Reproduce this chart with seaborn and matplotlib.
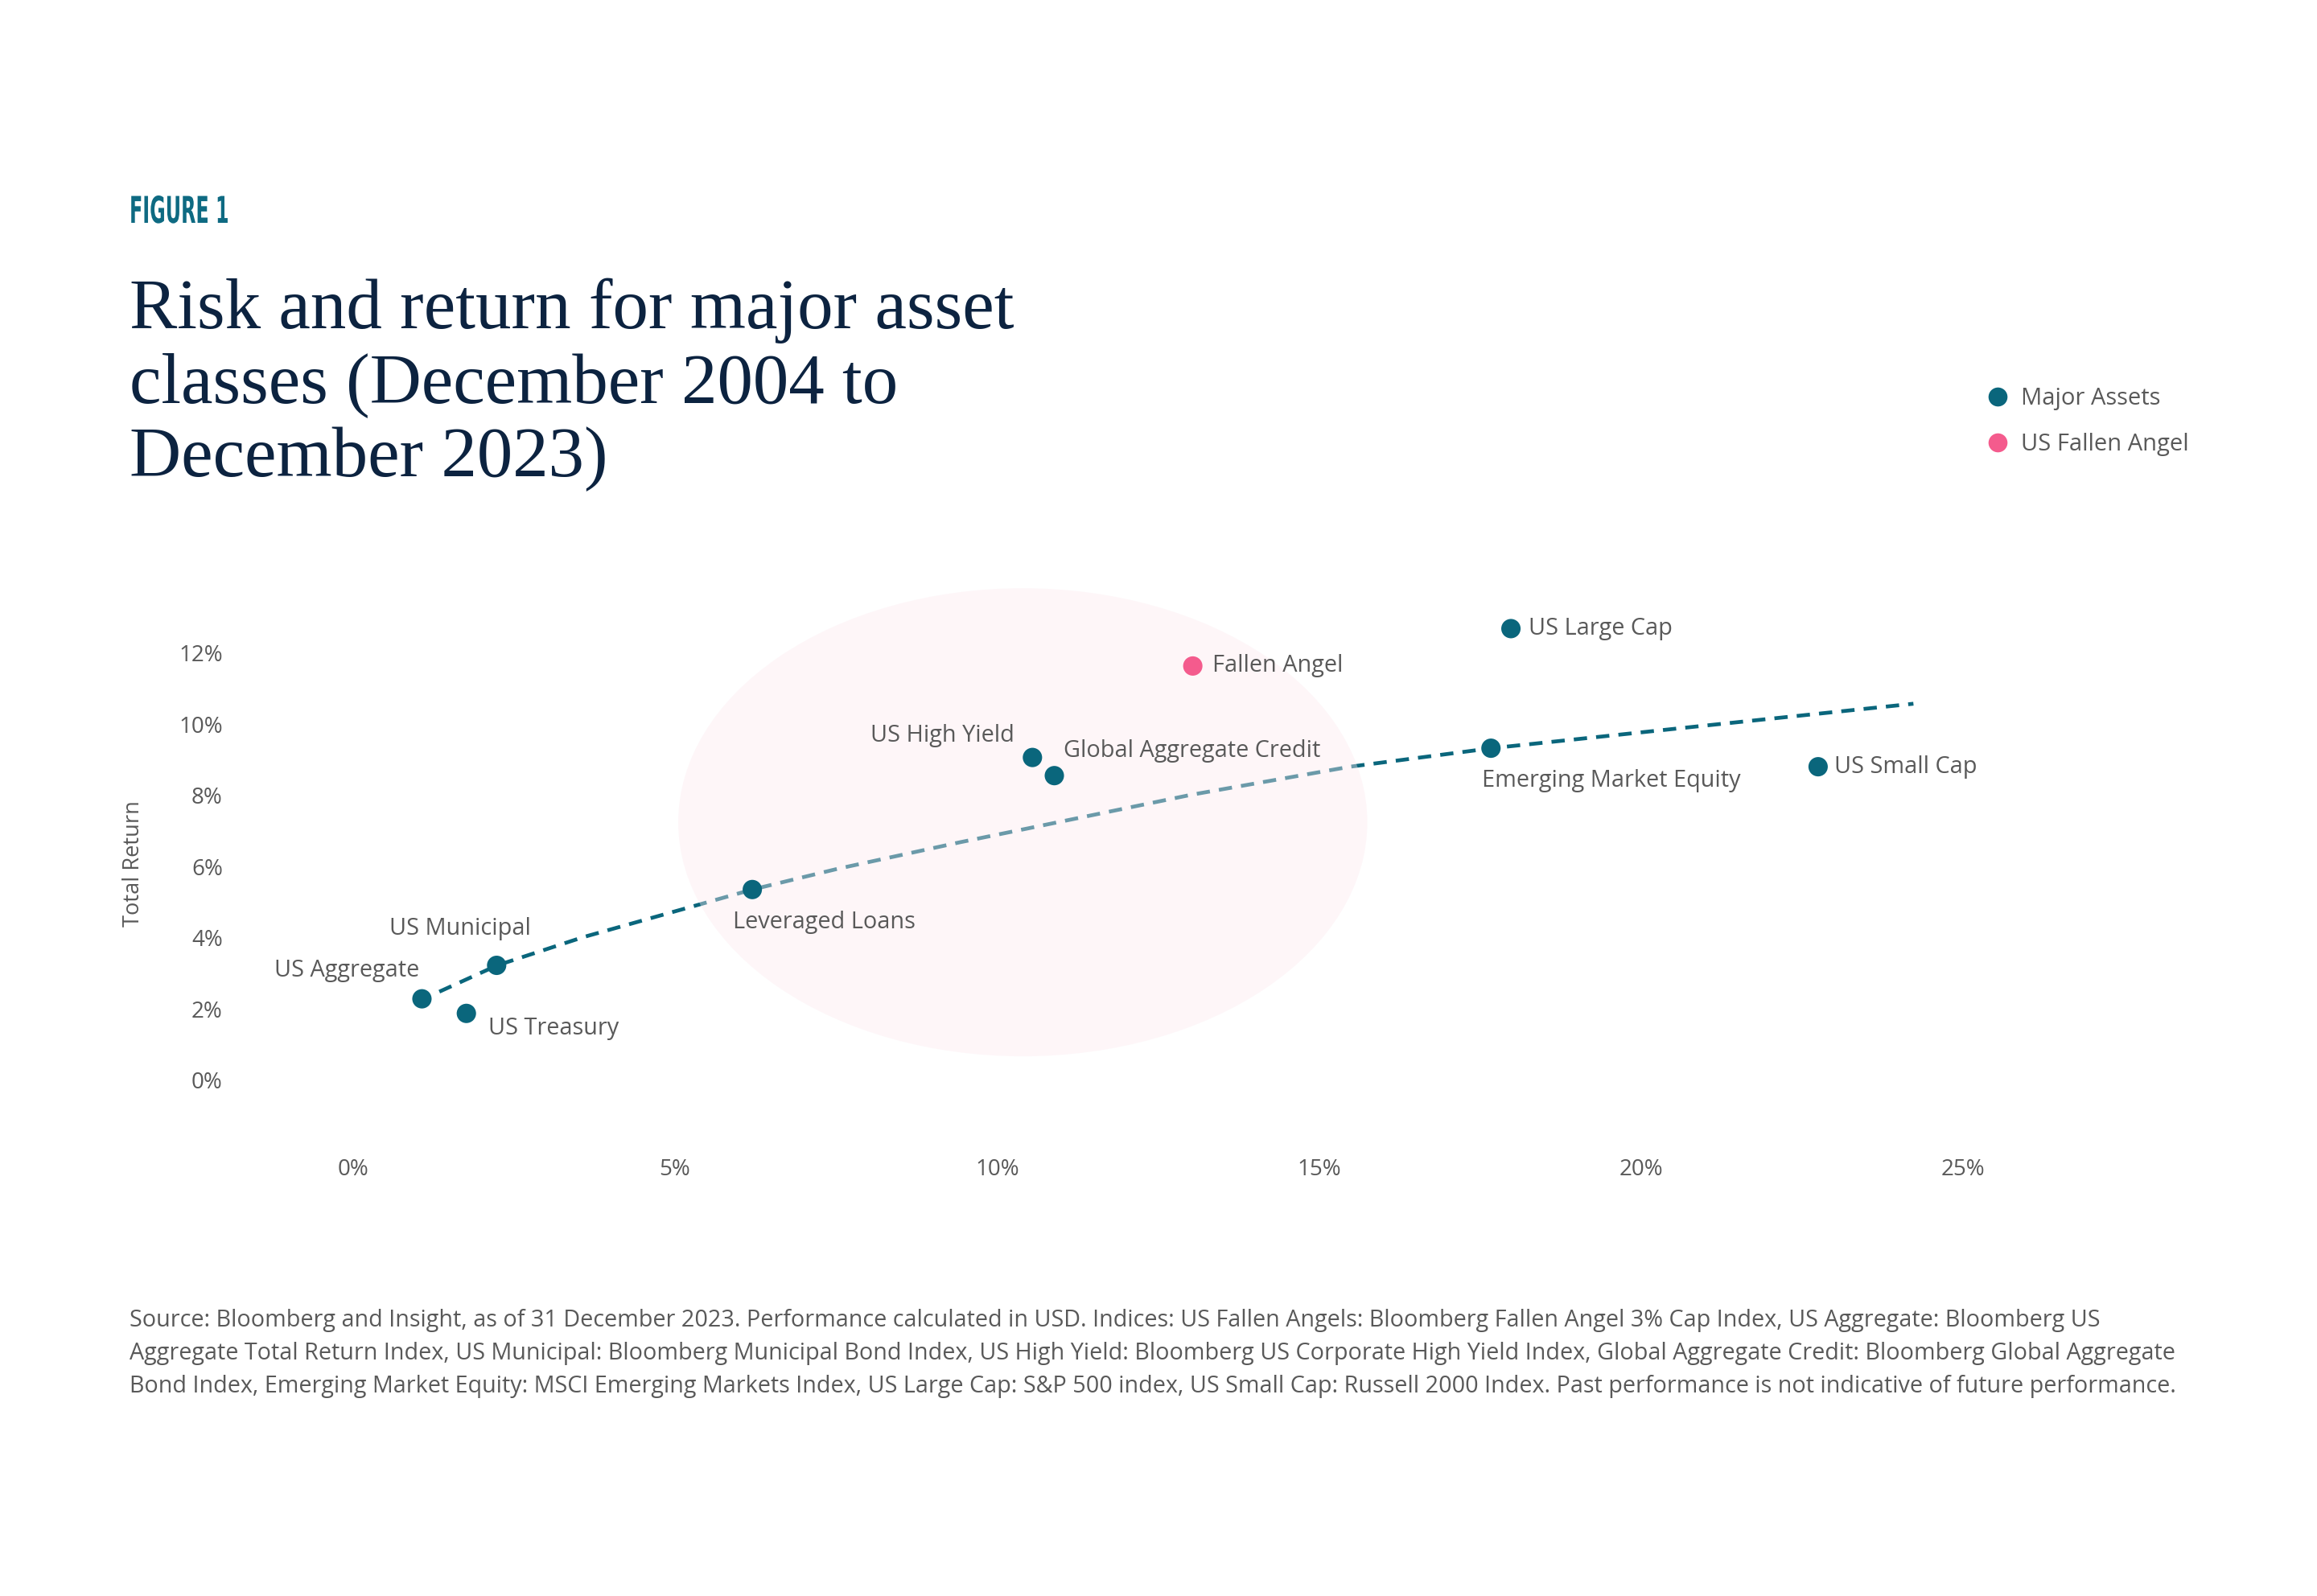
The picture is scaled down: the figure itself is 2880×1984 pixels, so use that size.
import matplotlib
matplotlib.use("Agg")
import matplotlib.pyplot as plt
from matplotlib.patches import Ellipse, PathPatch
from matplotlib.lines import Line2D
from matplotlib.textpath import TextPath
from matplotlib.font_manager import FontProperties
from matplotlib.transforms import Affine2D
import seaborn as sns
import pandas as pd

# --- data ---
assets = ["US Aggregate", "US Treasury", "US Municipal", "Leveraged Loans", "US High Yield",
          "Global Aggregate Credit", "Fallen Angel", "Emerging Market Equity",
          "US Large Cap", "US Small Cap"]
risk = [1.07, 1.76, 2.23, 6.20, 10.55, 10.89, 13.04, 17.67, 17.98, 22.75]
total_return = [2.29, 1.88, 3.23, 5.36, 9.07, 8.56, 11.64, 9.33, 12.69, 8.81]
group = ["Major Assets"] * 6 + ["US Fallen Angel"] + ["Major Assets"] * 3

trend_x = [1.34, 2.24, 3.57, 5.36, 6.20, 7.52, 9.43, 10.46, 13.01, 15.48, 17.68, 20.65, 24.23]
trend_y = [2.49, 3.23, 4.02, 4.93, 5.36, 5.94, 6.69, 7.07, 8.02, 8.81, 9.33, 9.90, 10.58]

x_ticks = [0, 5, 10, 15, 20, 25]
y_ticks = [0, 2, 4, 6, 8, 10, 12]

# highlight ellipse (centre, width, height in data units)
ell_center = (10.4, 7.25)
ell_width = 10.7
ell_height = 13.15

title_lines = ["Risk and return for major asset",
               "classes (December 2004 to",
               "December 2023)"]
source_lines = [
    "Source: Bloomberg and Insight, as of 31 December 2023. Performance calculated in USD. Indices: US Fallen Angels: Bloomberg Fallen Angel 3% Cap Index, US Aggregate: Bloomberg US",
    "Aggregate Total Return Index, US Municipal: Bloomberg Municipal Bond Index, US High Yield: Bloomberg US Corporate High Yield Index, Global Aggregate Credit: Bloomberg Global Aggregate",
    "Bond Index, Emerging Market Equity: MSCI Emerging Markets Index, US Large Cap: S&P 500 index, US Small Cap: Russell 2000 Index. Past performance is not indicative of future performance.",
]

# label placement: (dx pt, dy pt, ha)
label_pos = {
    "US Aggregate": (-1.3, 12.6, "right"),
    "US Treasury": (10, -6.6, "left"),
    "US Municipal": (-48, 16.5, "left"),
    "Leveraged Loans": (-8.6, -14.5, "left"),
    "US High Yield": (-7.9, 9.9, "right"),
    "Global Aggregate Credit": (4, 11.2, "left"),
    "Fallen Angel": (8.6, 0, "left"),
    "Emerging Market Equity": (-4, -14.5, "left"),
    "US Large Cap": (7.9, 0, "left"),
    "US Small Cap": (7.3, 0, "left"),
}

TEAL = "#0a667c"
PINK = "#f45b8d"
NAVY = "#0c2340"
GREY = "#595959"
palette = {"Major Assets": TEAL, "US Fallen Angel": PINK}

sns.set_theme(style="white")
plt.rcParams["font.family"] = ["Open Sans", "DejaVu Sans"]

df = pd.DataFrame({"asset": assets, "risk": risk, "ret": total_return, "group": group})
trend = pd.DataFrame({"x": trend_x, "y": trend_y})

fig = plt.figure(figsize=(14.4, 9.92), dpi=200)
ax = fig.add_axes([0.0990, 0.2785, 0.8316, 0.3680])

sns.lineplot(data=trend, x="x", y="y", ax=ax, color=TEAL, linewidth=1.7,
             linestyle=(0, (3.5, 2.4)), sort=False, estimator=None, zorder=1)

ax.add_patch(Ellipse(ell_center, ell_width, ell_height, facecolor="#fde9ef",
                     edgecolor="none", alpha=0.4, zorder=2))

sns.scatterplot(data=df, x="risk", y="ret", hue="group", palette=palette, s=75,
                edgecolor="none", legend=False, ax=ax, zorder=3)

for name, x, y in zip(assets, risk, total_return):
    dx, dy, ha = label_pos[name]
    ax.annotate(name, (x, y), xytext=(dx, dy), textcoords="offset points",
                ha=ha, va="center", fontsize=10.4, color=GREY, zorder=4)

ax.set_xlim(-1.92, 28)
ax.set_ylim(-2, 14.5)
ax.set_xticks(x_ticks)
ax.set_xticklabels([f"{t}%" for t in x_ticks])
ax.set_yticks(y_ticks)
ax.set_yticklabels([f"{t}%" for t in y_ticks])
ax.tick_params(axis="both", length=0, labelsize=10, labelcolor=GREY, pad=3)
ax.set_xlabel("")
ax.set_ylabel("Total Return", fontsize=9.8, color=GREY)
ax.yaxis.set_label_coords(-0.044, 0.49)
sns.despine(ax=ax, left=True, bottom=True)
ax.grid(False)

# legend
handles = [Line2D([0], [0], marker="o", linestyle="none", markersize=8.5,
                  markerfacecolor=c, markeredgecolor="none", label=k)
           for k, c in palette.items()]
leg = fig.legend(handles=handles, loc="center left", bbox_to_anchor=(0.857, 0.7358),
                 frameon=False, fontsize=10.5, handlelength=1.0, handletextpad=0.5,
                 labelspacing=0.95, borderpad=0, borderaxespad=0)
for t in leg.get_texts():
    t.set_color(GREY)

# "FIGURE 1" kicker, squeezed horizontally to mimic a condensed face
kicker = TextPath((0, 0), "FIGURE 1", size=16.5,
                  prop=FontProperties(family="DejaVu Sans", weight="bold"))
kick_tr = Affine2D().scale(0.52 / 72, 1 / 72).translate(161 / 200, (1984 - 277) / 200)
fig.patches.append(PathPatch(kicker, facecolor="#0e6a82", edgecolor="none",
                             transform=kick_tr + fig.dpi_scale_trans, figure=fig))

for i, line in enumerate(title_lines):
    fig.text(0.056, 1 - (408 + 92 * i) / 1984, line, fontsize=32, color=NAVY,
             va="baseline", family=["Liberation Serif", "DejaVu Serif"])

for i, line in enumerate(source_lines):
    fig.text(0.056, 1 - (1642 + 40.5 * i) / 1984, line, fontsize=10.35, color=GREY,
             va="center")

fig.savefig("out.png", dpi=200, facecolor="white")
